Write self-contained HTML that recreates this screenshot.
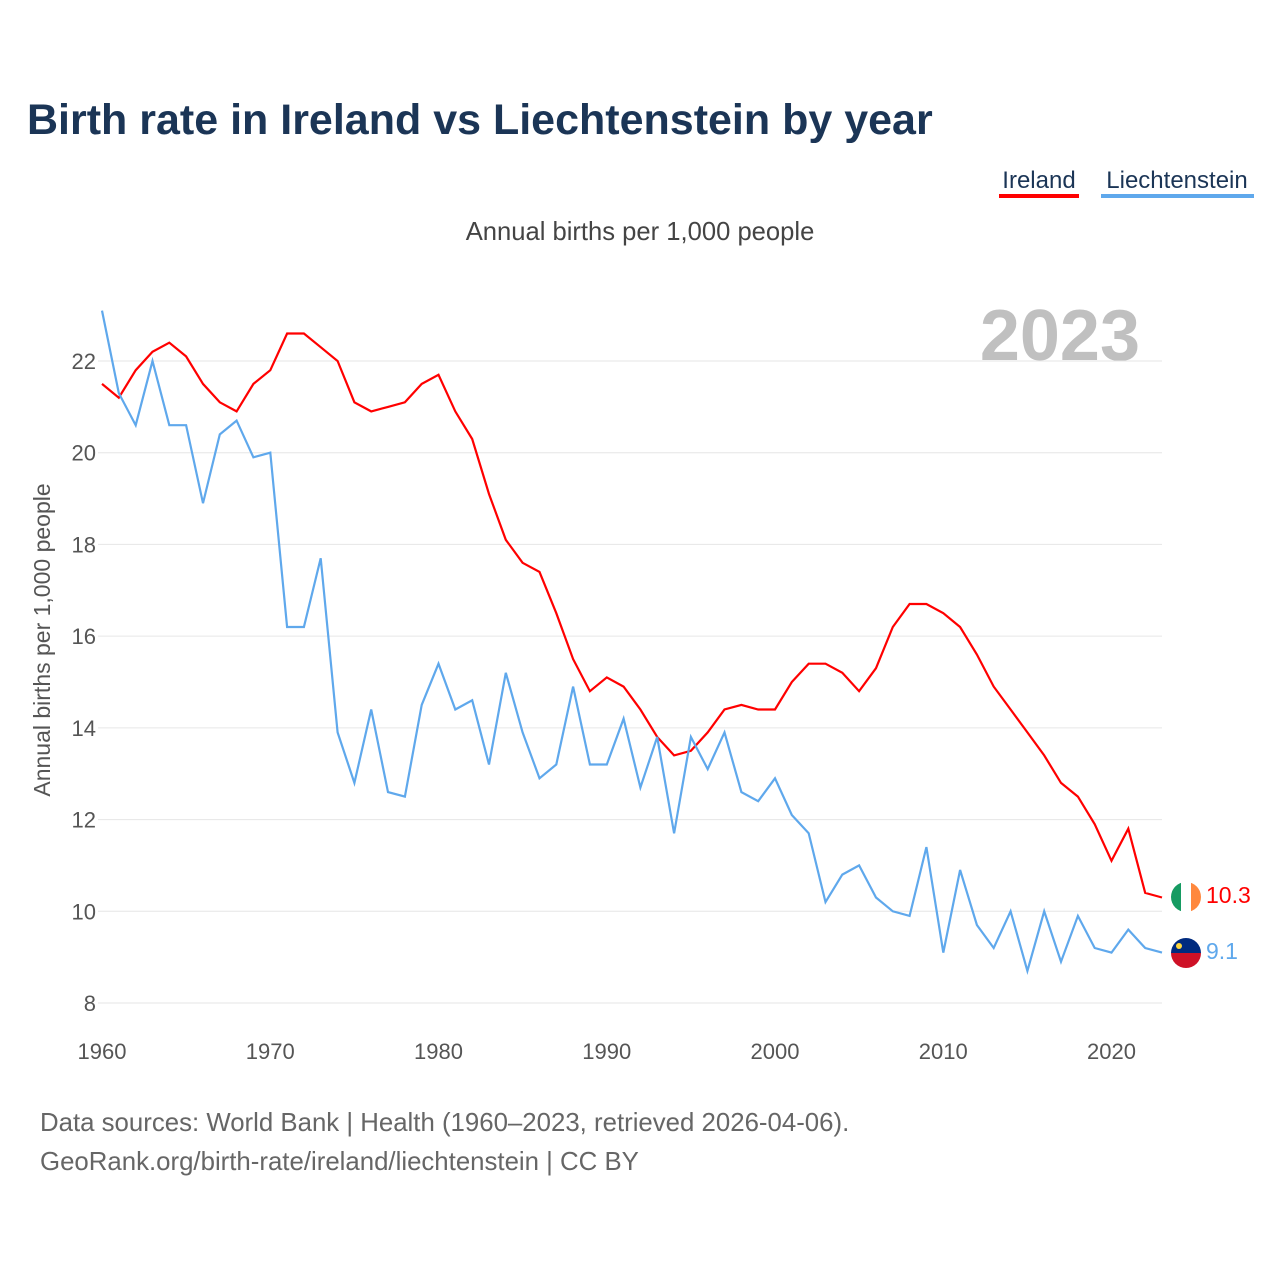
<!DOCTYPE html>
<html><head><meta charset="utf-8"><style>
body{margin:0;background:#fff;font-family:"Liberation Sans",sans-serif;}
svg text{font-family:"Liberation Sans",sans-serif;}
</style></head><body>
<svg id="chart" width="1280" height="1280" viewBox="0 0 1280 1280" xmlns="http://www.w3.org/2000/svg">
<text x="27" y="134" font-size="43" font-weight="bold" fill="#1b3556">Birth rate in Ireland vs Liechtenstein by year</text>
<g><text x="1039" y="188" font-size="24" fill="#1b3556" text-anchor="middle">Ireland</text><rect x="999" y="194" width="80" height="4" fill="#f00"/></g>
<g><text x="1177" y="188" font-size="24" fill="#1b3556" text-anchor="middle">Liechtenstein</text><rect x="1101" y="194" width="153" height="4" fill="#5fa8ec"/></g>
<text x="640" y="240" font-size="25.6" fill="#444" text-anchor="middle">Annual births per 1,000 people</text>
<text x="1140" y="360" font-size="72" font-weight="bold" fill="#c0c0c0" text-anchor="end">2023</text>
<text transform="translate(50,640) rotate(-90)" font-size="23" fill="#555" text-anchor="middle">Annual births per 1,000 people</text>
<g id="grid"></g><g id="series"></g>
<g>
<clipPath id="c1"><circle cx="1186" cy="897" r="15"/></clipPath>
<g clip-path="url(#c1)"><rect x="1171" y="882" width="10" height="30" fill="#169b62"/><rect x="1181" y="882" width="10" height="30" fill="#fff"/><rect x="1191" y="882" width="10" height="30" fill="#ff883e"/></g>
<text x="1206" y="903" font-size="23" fill="#f00">10.3</text></g>
<g>
<clipPath id="c2"><circle cx="1186" cy="953" r="15"/></clipPath>
<g clip-path="url(#c2)"><rect x="1171" y="938" width="30" height="15" fill="#002b7f"/><rect x="1171" y="953" width="30" height="15" fill="#ce1126"/><circle cx="1179" cy="946" r="3" fill="#ffd83d"/></g>
<text x="1206" y="959" font-size="23" fill="#5fa8ec">9.1</text></g>
<text x="40" y="1131" font-size="25.8" fill="#666">Data sources: World Bank | Health (1960–2023, retrieved 2026-04-06).</text>
<text x="40" y="1170" font-size="25.8" fill="#666">GeoRank.org/birth-rate/ireland/liechtenstein | CC BY</text>
</svg>
<script>
const years=[];for(let y=1960;y<=2023;y++)years.push(y);
const ireland=[21.5,21.2,21.8,22.2,22.4,22.1,21.5,21.1,20.9,21.5,21.8,22.6,22.6,22.3,22.0,21.1,20.9,21.0,21.1,21.5,21.7,20.9,20.3,19.1,18.1,17.6,17.4,16.5,15.5,14.8,15.1,14.9,14.4,13.8,13.4,13.5,13.9,14.4,14.5,14.4,14.4,15.0,15.4,15.4,15.2,14.8,15.3,16.2,16.7,16.7,16.5,16.2,15.6,14.9,14.4,13.9,13.4,12.8,12.5,11.9,11.1,11.8,10.4,10.3];
const liechtenstein=[23.1,21.3,20.6,22.0,20.6,20.6,18.9,20.4,20.7,19.9,20.0,16.2,16.2,17.7,13.9,12.8,14.4,12.6,12.5,14.5,15.4,14.4,14.6,13.2,15.2,13.9,12.9,13.2,14.9,13.2,13.2,14.2,12.7,13.8,11.7,13.8,13.1,13.9,12.6,12.4,12.9,12.1,11.7,10.2,10.8,11.0,10.3,10.0,9.9,11.4,9.1,10.9,9.7,9.2,10.0,8.7,10.0,8.9,9.9,9.2,9.1,9.6,9.2,9.1];
const yTicks=[8,10,12,14,16,18,20,22];
const xTicks=[1960,1970,1980,1990,2000,2010,2020];
const NS="http://www.w3.org/2000/svg";
const xs=y=>102+(y-1960)*(1162-102)/63;
const ys=v=>1003-(v-8)*(1003-361)/14;
const grid=document.getElementById('grid');
for(const t of yTicks){
 const l=document.createElementNS(NS,'line');
 l.setAttribute('x1',98);l.setAttribute('x2',1162);l.setAttribute('y1',ys(t));l.setAttribute('y2',ys(t));
 l.setAttribute('stroke','#e6e6e6');l.setAttribute('stroke-width','1');
 
 
 grid.appendChild(l);
 const tx=document.createElementNS(NS,'text');
 tx.setAttribute('x',96);tx.setAttribute('y',ys(t)+8);tx.setAttribute('text-anchor','end');
 tx.setAttribute('font-size','22');tx.setAttribute('fill','#555');tx.textContent=t;
 
 
 grid.appendChild(tx);
}
for(const t of xTicks){
 const tx=document.createElementNS(NS,'text');
 tx.setAttribute('x',xs(t));tx.setAttribute('y',1059);tx.setAttribute('text-anchor','middle');
 tx.setAttribute('font-size','22');tx.setAttribute('fill','#555');tx.textContent=t;
 
 
 grid.appendChild(tx);
}
const ser=document.getElementById('series');
function line(vals,color,name){
 const p=document.createElementNS(NS,'path');
 p.setAttribute('d',vals.map((v,i)=>(i?'L':'M')+xs(years[i]).toFixed(1)+','+ys(v).toFixed(1)).join(''));
 p.setAttribute('fill','none');p.setAttribute('stroke',color);p.setAttribute('stroke-width','2.2');
 
 
 ser.appendChild(p);
}
line(ireland,'#f00','ireland-line');
line(liechtenstein,'#5fa8ec','liechtenstein-line');
</script>
</body></html>
